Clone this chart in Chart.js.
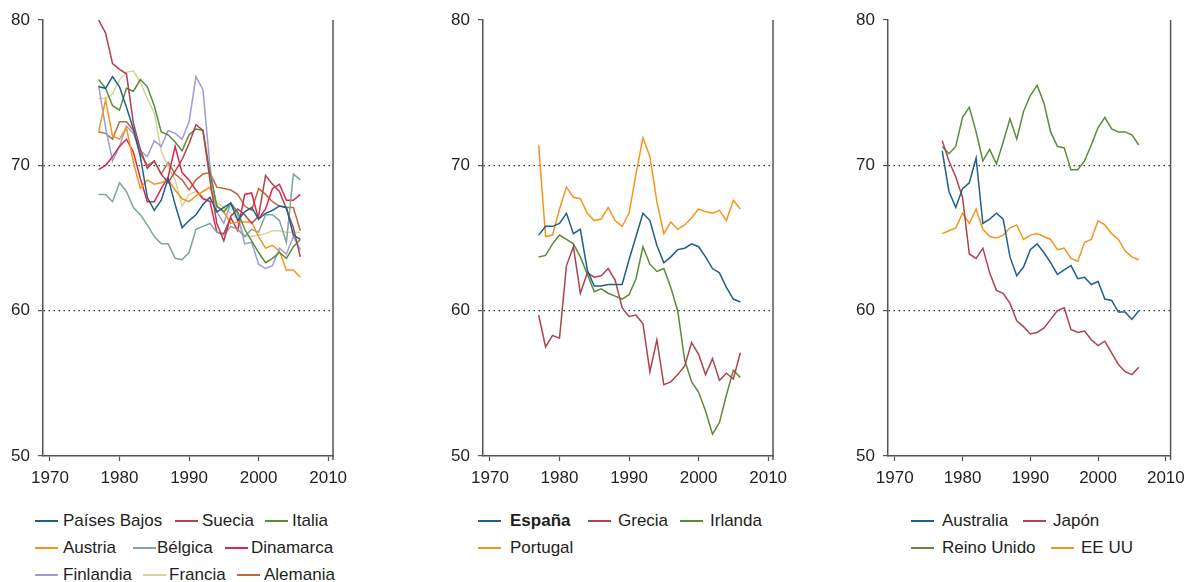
<!DOCTYPE html>
<html lang="es">
<head>
<meta charset="UTF-8">
<title>Tres paneles 1977-2006</title>
<script src="https://cdn.jsdelivr.net/npm/chart.js"></script>
<style>
  body {
    margin: 0;
    width: 1192px;
    height: 582px;
    background: #fff;
    position: relative;
    overflow: hidden;
    font-family: "Liberation Sans", Arial, sans-serif;
  }
  canvas { position: absolute; top: 0; }
  .lg {
    position: absolute;
    font-size: 17px;
    line-height: 20px;
    color: #231f20;
    white-space: nowrap;
  }
  .lg-line { position: absolute; height: 2px; width: 23px; }
</style>
</head>
<body>
<canvas id="c1" width="360" height="500" style="left:0px"></canvas>
<canvas id="c2" width="360" height="500" style="left:440px"></canvas>
<canvas id="c3" width="347" height="500" style="left:845px"></canvas>

<script>
// años y ejes
const YEARS = [1977, 1978, 1979, 1980, 1981, 1982, 1983, 1984, 1985, 1986,
               1987, 1988, 1989, 1990, 1991, 1992, 1993, 1994, 1995, 1996,
               1997, 1998, 1999, 2000, 2001, 2002, 2003, 2004, 2005, 2006];
const X_TICKS = [1970, 1980, 1990, 2000, 2010];
const Y_TICKS = [50, 60, 70, 80];

// panel 1
const PAISES_BAJOS = [75.4, 75.3, 76.1, 75.4, 74.0, 72.5, 70.6, 67.8, 66.9, 67.6, 69.1, 67.3, 65.7, 66.2, 66.6, 67.3, 67.8, 66.8, 67.1, 67.4, 66.2, 66.8, 67.1, 66.3, 66.7, 66.9, 67.2, 67.1, 65.2, 64.9];
const SUECIA       = [80.0, 79.1, 77.0, 76.6, 76.3, 72.9, 71.1, 69.8, 70.3, 69.4, 68.8, 69.6, 70.4, 71.5, 72.8, 72.4, 69.0, 66.0, 64.8, 66.5, 67.0, 66.6, 66.0, 66.5, 69.3, 68.7, 68.2, 67.0, 65.7, 63.7];
const ITALIA       = [75.9, 75.3, 74.1, 73.8, 75.3, 75.1, 75.9, 75.4, 74.1, 72.3, 72.1, 71.6, 71.0, 72.1, 72.5, 72.4, 69.5, 67.2, 66.8, 67.4, 66.8, 65.6, 64.8, 64.0, 63.3, 63.6, 64.0, 63.6, 64.4, 64.9];
const AUSTRIA      = [72.3, 74.5, 72.0, 71.8, 72.6, 70.2, 68.4, 69.0, 68.7, 68.8, 69.0, 68.3, 67.7, 67.5, 67.9, 68.2, 68.5, 67.2, 66.8, 66.0, 66.1, 66.1, 66.1, 65.1, 64.3, 64.5, 64.1, 62.8, 62.8, 62.3];
const BELGICA      = [68.0, 68.0, 67.5, 68.8, 68.2, 67.1, 66.6, 65.9, 65.1, 64.6, 64.6, 63.6, 63.5, 64.0, 65.6, 65.8, 66.0, 65.4, 65.2, 65.8, 65.6, 65.1, 65.6, 65.4, 66.6, 66.6, 66.2, 64.7, 69.4, 69.0];
const DINAMARCA    = [69.7, 70.0, 70.6, 71.3, 71.8, 70.9, 69.1, 67.5, 67.5, 68.4, 69.2, 71.3, 69.5, 69.0, 68.3, 67.7, 67.5, 65.4, 65.3, 66.4, 65.5, 68.0, 68.1, 66.3, 67.0, 68.4, 68.7, 67.6, 67.6, 68.0];
const FINLANDIA    = [75.5, 72.6, 70.3, 71.3, 72.7, 72.2, 71.0, 70.6, 71.7, 71.3, 72.4, 72.2, 71.8, 73.0, 76.1, 75.2, 70.0, 66.8, 66.0, 67.4, 66.6, 64.6, 64.7, 63.2, 62.9, 63.1, 64.3, 63.9, 65.1, 64.2];
const FRANCIA      = [74.6, 74.6, 74.9, 75.9, 76.4, 76.5, 75.7, 74.6, 73.6, 71.0, 69.9, 69.0, 67.2, 68.0, 68.2, 67.8, 67.5, 67.4, 67.1, 66.7, 66.3, 65.1, 65.1, 65.2, 65.3, 65.5, 65.5, 65.4, 65.4, 65.4];
const ALEMANIA     = [72.3, 72.2, 71.8, 73.0, 73.0, 72.4, 70.8, 70.0, 70.3, 69.4, 70.2, 69.4, 69.0, 68.3, 69.0, 69.4, 69.5, 68.5, 68.4, 68.3, 68.0, 67.2, 66.9, 68.4, 68.0, 67.5, 67.2, 67.1, 67.1, 65.5];

// panel 2
const ESPANA   = [65.2, 65.8, 65.8, 66.0, 66.7, 65.3, 65.6, 62.8, 61.7, 61.7, 61.8, 61.8, 61.8, 63.5, 65.1, 66.7, 66.2, 64.5, 63.3, 63.7, 64.2, 64.3, 64.6, 64.4, 63.7, 62.9, 62.6, 61.6, 60.8, 60.6];
const GRECIA   = [59.7, 57.5, 58.3, 58.1, 63.1, 64.4, 61.2, 62.6, 62.3, 62.4, 62.9, 62.1, 60.2, 59.6, 59.7, 59.1, 55.8, 58.0, 54.9, 55.1, 55.6, 56.2, 57.8, 57.0, 55.6, 56.7, 55.2, 55.7, 55.3, 57.1];
const IRLANDA  = [63.7, 63.8, 64.6, 65.2, 64.9, 64.6, 63.7, 62.5, 61.3, 61.5, 61.2, 61.0, 60.8, 61.1, 62.2, 64.4, 63.2, 62.7, 62.9, 61.6, 60.0, 56.6, 55.1, 54.4, 53.1, 51.5, 52.3, 54.2, 55.9, 55.4];
const PORTUGAL = [71.4, 65.1, 65.2, 67.0, 68.5, 67.8, 67.7, 66.7, 66.2, 66.3, 67.1, 66.2, 65.8, 66.7, 69.4, 71.9, 70.6, 67.5, 65.3, 66.1, 65.6, 65.9, 66.4, 67.0, 66.8, 66.7, 66.9, 66.2, 67.6, 67.0];

// panel 3
const AUSTRALIA   = [71.0, 68.2, 67.1, 68.4, 68.8, 70.5, 66.0, 66.3, 66.7, 66.3, 63.7, 62.4, 63.0, 64.2, 64.6, 64.0, 63.3, 62.5, 62.8, 63.1, 62.2, 62.3, 61.8, 62.0, 60.8, 60.7, 59.9, 59.9, 59.4, 60.0];
const JAPON       = [71.7, 70.3, 69.2, 67.8, 63.9, 63.6, 64.3, 62.6, 61.4, 61.2, 60.5, 59.3, 58.9, 58.4, 58.5, 58.8, 59.4, 60.0, 60.2, 58.7, 58.5, 58.6, 58.0, 57.6, 57.9, 57.1, 56.3, 55.8, 55.6, 56.1];
const REINO_UNIDO = [71.3, 70.8, 71.3, 73.3, 74.0, 72.3, 70.3, 71.1, 70.1, 71.6, 73.2, 71.8, 73.7, 74.8, 75.5, 74.3, 72.3, 71.3, 71.2, 69.7, 69.7, 70.3, 71.4, 72.6, 73.3, 72.5, 72.3, 72.3, 72.1, 71.4];
const EE_UU       = [65.3, 65.5, 65.7, 66.7, 66.0, 67.0, 65.6, 65.1, 65.0, 65.2, 65.7, 65.9, 64.9, 65.2, 65.3, 65.1, 64.9, 64.2, 64.3, 63.6, 63.4, 64.7, 64.9, 66.2, 65.9, 65.3, 64.9, 64.1, 63.7, 63.5];

const BLUE = '#1e5f8c', MAROON = '#b0424c', GREEN = '#5b8b3b', ORANGE = '#f7941d';

const panels = [
  { id: 'c1', padRight: 27, series: [
      ['Países Bajos', PAISES_BAJOS, BLUE],
      ['Suecia', SUECIA, MAROON],
      ['Italia', ITALIA, GREEN],
      ['Austria', AUSTRIA, ORANGE],
      ['Bélgica', BELGICA, '#7ea69b'],
      ['Dinamarca', DINAMARCA, '#e0244f'],
      ['Finlandia', FINLANDIA, '#9d9dd6'],
      ['Francia', FRANCIA, '#d6d3a0'],
      ['Alemania', ALEMANIA, '#b96b3b']
    ],
    legend: [[35, 63, 521], [175, 202, 521], [265, 292, 521],
             [35, 63, 548], [133, 157, 548], [225, 251, 548],
             [35, 63, 575], [143, 169, 575], [237, 264, 575]] },
  { id: 'c2', padRight: 27, series: [
      ['España', ESPANA, BLUE],
      ['Grecia', GRECIA, MAROON],
      ['Irlanda', IRLANDA, GREEN],
      ['Portugal', PORTUGAL, ORANGE]
    ],
    legend: [[478, 510, 521], [588, 618, 521], [680, 710, 521], [478, 510, 548]],
    bold: ['España'] },
  { id: 'c3', padRight: 15, series: [
      ['Australia', AUSTRALIA, BLUE],
      ['Japón', JAPON, MAROON],
      ['Reino Unido', REINO_UNIDO, GREEN],
      ['EE UU', EE_UU, ORANGE]
    ],
    legend: [[911, 942, 521], [1023, 1053, 521], [911, 942, 548], [1051, 1081, 548]] }
];

const AXIS = '#555555';
const TXT = '#231f20';
const FONT = { family: '"Liberation Sans", Arial, sans-serif', size: 17 };

// borde derecho del recuadro
const frameRight = {
  id: 'frameRight',
  afterDraw(chart) {
    const a = chart.chartArea, ctx = chart.ctx;
    ctx.save();
    ctx.strokeStyle = AXIS;
    ctx.lineWidth = 1.5;
    ctx.beginPath();
    ctx.moveTo(a.right, a.top);
    ctx.lineTo(a.right, a.bottom + 4);
    ctx.stroke();
    ctx.restore();
  }
};

panels.forEach(p => {
  new Chart(document.getElementById(p.id), {
    type: 'line',
    data: {
      datasets: p.series.map(s => ({
        label: s[0],
        data: s[1].map((v, i) => ({ x: YEARS[i], y: v })),
        borderColor: s[2],
        borderWidth: 1.5,
        pointRadius: 0,
        tension: 0,
        fill: false
      }))
    },
    options: {
      responsive: false,
      animation: false,
      layout: { padding: { top: 20, right: p.padRight, left: 0, bottom: 0 } },
      plugins: { legend: { display: false }, tooltip: { enabled: false } },
      scales: {
        x: {
          type: 'linear',
          min: 1969,
          max: 2010.7,
          afterBuildTicks: s => { s.ticks = X_TICKS.map(v => ({ value: v })); },
          afterFit: s => { s.height = 44; },
          ticks: { font: FONT, color: TXT, padding: 7, maxRotation: 0, autoSkip: false,
                   callback: v => String(v) },
          grid: { drawOnChartArea: false, tickLength: 5, tickColor: AXIS, tickWidth: 1.2 },
          border: { color: AXIS, width: 1.5 }
        },
        y: {
          min: 50,
          max: 80,
          afterBuildTicks: s => { s.ticks = Y_TICKS.map(v => ({ value: v })); },
          afterFit: s => { s.width = 43; },
          ticks: { font: FONT, color: TXT, padding: 8, callback: v => String(v) },
          grid: {
            color: c => (c.tick && (c.tick.value === 60 || c.tick.value === 70)) ? '#333333' : 'rgba(0,0,0,0)',
            lineWidth: 1.2,
            tickLength: 5,
            tickColor: AXIS,
            tickWidth: 1.2
          },
          border: { color: AXIS, width: 1.5, dash: [1.5, 3.5] }
        }
      }
    },
    plugins: [frameRight]
  });

  // leyenda
  p.series.forEach((s, i) => {
    const pos = p.legend[i];
    const line = document.createElement('div');
    line.className = 'lg-line';
    line.style.left = pos[0] + 'px';
    line.style.top = (pos[2] - 1) + 'px';
    line.style.backgroundColor = s[2];
    document.body.appendChild(line);
    const t = document.createElement('div');
    t.className = 'lg';
    t.textContent = s[0];
    t.style.left = pos[1] + 'px';
    t.style.top = (pos[2] - 10) + 'px';
    if (p.bold && p.bold.includes(s[0])) t.style.fontWeight = 'bold';
    document.body.appendChild(t);
  });
});
</script>
</body>
</html>
